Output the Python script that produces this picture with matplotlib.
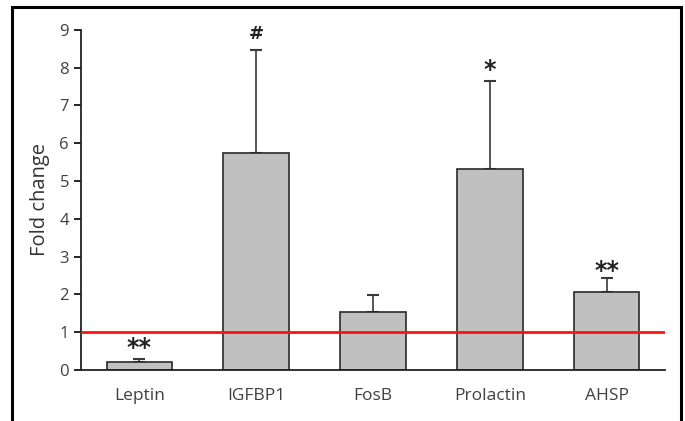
import matplotlib.pyplot as plt
import matplotlib.patches as mpatches
import numpy as np

# Data
genes = ["Leptin", "IGFBP1", "FosB", "Prolactin", "AHSP"]
fold_change = [0.22, 5.73, 1.53, 5.32, 2.06]
err_upper = [0.07, 2.74, 0.45, 2.33, 0.37]
marks = ["**", "#", "", "*", "**"]
mark_y = [0.58, 8.88, 0, 7.95, 2.62]

plt.rcParams["font.family"] = ["Open Sans", "DejaVu Sans"]

fig = plt.figure(figsize=(6.85, 4.21), dpi=100)
ax = fig.add_axes([0.118, 0.121, 0.853, 0.808])

x = np.arange(len(genes))
ax.bar(x, fold_change, width=0.56, color="#c0c0c0", edgecolor="#2a2a2a", linewidth=1.2, zorder=2)
ax.errorbar(x, fold_change, yerr=[np.zeros(len(x)), err_upper], fmt="none",
            ecolor="#3a3a3a", elinewidth=1.2, capsize=4, capthick=1.5, zorder=1)

ax.axhline(1, color="#ff1010", linewidth=2, zorder=3)

for xi, m, my in zip(x, marks, mark_y):
    if m:
        ax.text(xi, my, m, ha="center", va="center", fontsize=17 if m != "#" else 13,
                fontweight="bold", color="#222222", family="DejaVu Sans")

ax.set_xlim(-0.5, 4.5)
ax.set_ylim(0, 9)
ax.set_yticks(range(0, 10))
ax.set_xticks(x)
ax.set_xticklabels(genes)
ax.tick_params(axis="x", length=0, pad=13, labelsize=12.5, labelcolor="#404040")
ax.tick_params(axis="y", direction="out", length=5, width=1.2, labelsize=12, labelcolor="#404040")
ax.set_ylabel("Fold change", fontsize=14.5, color="#333333", labelpad=7)

for s in ["top", "right"]:
    ax.spines[s].set_visible(False)
for s in ["left", "bottom"]:
    ax.spines[s].set_linewidth(1.3)
    ax.spines[s].set_color("#222222")

# outer frame around the figure panel
fig.patches.append(mpatches.Rectangle((0.018, -0.05), 0.976, 1.034, transform=fig.transFigure,
                                      fill=False, edgecolor="black", linewidth=2.2))

plt.savefig("out.png", dpi=100)
